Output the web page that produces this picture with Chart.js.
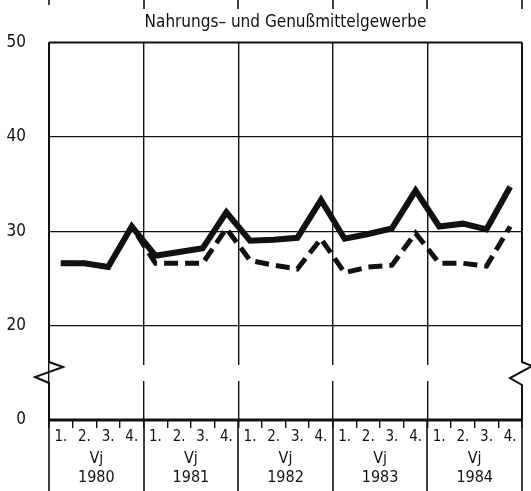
<!DOCTYPE html>
<html>
<head>
<meta charset="utf-8">
<script src="https://cdn.jsdelivr.net/npm/chart.js@4"></script>
<style>
  html, body { margin: 0; padding: 0; background: #fff; }
  #wrap { width: 531px; height: 491px; }
</style>
</head>
<body>
<div id="wrap"><canvas id="chart" width="531" height="491"></canvas></div>
<script>
// categories
var quarters = ['1.', '2.', '3.', '4.', '1.', '2.', '3.', '4.', '1.', '2.', '3.', '4.', '1.', '2.', '3.', '4.', '1.', '2.', '3.', '4.'];
var years = [['Vj', '1980'], ['Vj', '1981'], ['Vj', '1982'], ['Vj', '1983'], ['Vj', '1984']];

// series
var solidValues = [26.6, 26.6, 26.2, 30.5, 27.4, 27.8, 28.2, 32.0, 29.0, 29.1, 29.3, 33.3, 29.2, 29.7, 30.3, 34.3, 30.5, 30.8, 30.2, 34.7];
var dashedValues = [26.6, 26.6, 26.2, 30.5, 26.6, 26.6, 26.6, 30.3, 26.9, 26.4, 26.0, 29.2, 25.6, 26.2, 26.4, 29.8, 26.6, 26.6, 26.3, 30.5];

// y ticks: axis is broken, the bottom tick (10) is labelled 0
var yTicks = [10, 20, 30, 40, 50];
var yTickLabels = {10: '0', 20: '20', 30: '30', 40: '40', 50: '50'};

var INK = '#111';
var FONT = "'Liberation Sans Narrow', 'DejaVu Sans Condensed', 'Liberation Sans', sans-serif";

// frame, axis break, year separators, top ticks
var framePlugin = {
  id: 'frame',
  beforeDatasetsDraw: function (chart) {
    var a = chart.chartArea, c = chart.ctx;
    // gap in the gridlines at the axis break
    c.save();
    c.fillStyle = '#fff';
    c.fillRect(a.left + 2, a.bottom - 55, a.right - a.left - 4, 16);
    c.restore();
  },
  afterDraw: function (chart) {
    var a = chart.chartArea, c = chart.ctx;
    var L = a.left, R = a.right, T = a.top, B = a.bottom;
    c.save();
    c.strokeStyle = INK;
    c.lineCap = 'butt';
    c.lineJoin = 'miter';
    // top border
    c.lineWidth = 2;
    c.beginPath(); c.moveTo(L, T); c.lineTo(R, T); c.stroke();
    // left border with zigzag
    c.beginPath();
    c.moveTo(L, T); c.lineTo(L, B - 58);
    c.lineTo(L + 14, B - 53); c.lineTo(L - 14, B - 43); c.lineTo(L, B - 37);
    c.lineTo(L, B);
    c.stroke();
    // right border with zigzag
    c.beginPath();
    c.moveTo(R, T); c.lineTo(R, B - 58);
    c.lineTo(R + 10, B - 54); c.lineTo(R - 12, B - 42); c.lineTo(R, B - 35);
    c.lineTo(R, B);
    c.stroke();
    // zero line
    c.lineWidth = 3;
    c.beginPath(); c.moveTo(L, B); c.lineTo(R, B); c.stroke();
    // year separators through the label area, and ticks at the top
    c.lineWidth = 1.6;
    var x = chart.scales.x;
    for (var i = 0; i <= quarters.length; i += 4) {
      var px = i < quarters.length ? x.getPixelForTick(i) - (x.getPixelForTick(1) - x.getPixelForTick(0)) / 2 : R;
      px = Math.round(px);
      c.beginPath(); c.moveTo(px, B); c.lineTo(px, chart.height); c.stroke();
      c.beginPath(); c.moveTo(px, 0); c.lineTo(px, i === 0 ? 5 : 9); c.stroke();
    }
    c.restore();
  }
};

var ctx = document.getElementById('chart').getContext('2d');
var myChart = new Chart(ctx, {
  type: 'line',
  data: {
    labels: quarters,
    datasets: [{
      data: solidValues,
      borderColor: INK,
      borderWidth: 6,
      borderJoinStyle: 'miter',
      pointRadius: 0,
      tension: 0,
      order: 0
    }, {
      data: dashedValues,
      borderColor: INK,
      borderWidth: 5,
      borderDash: [14, 7],
      borderJoinStyle: 'miter',
      pointRadius: 0,
      tension: 0,
      order: 1
    }]
  },
  plugins: [framePlugin],
  options: {
    responsive: false,
    animation: false,
    layout: { padding: { left: 0, right: 9, top: 0, bottom: 0 } },
    plugins: {
      legend: { display: false },
      tooltip: { enabled: false },
      title: {
        display: true,
        fullSize: false,
        text: 'Nahrungs– und Genußmittelgewerbe',
        color: INK,
        font: { family: FONT, size: 17, weight: 'normal', lineHeight: 1.2 },
        padding: { top: 12, bottom: 10 }
      }
    },
    scales: {
      x: {
        type: 'category',
        offset: true,
        border: { display: false },
        grid: {
          offset: true,
          color: function (c) { return c.index % 4 === 0 ? INK : 'rgba(0,0,0,0)'; },
          tickColor: INK,
          lineWidth: 1.4,
          tickLength: 8,
          drawTicks: true
        },
        ticks: {
          color: INK,
          font: { family: FONT, size: 15 },
          padding: 0,
          maxRotation: 0,
          autoSkip: false
        },
        afterFit: function (s) { s.height = 21; }
      },
      x2: {
        type: 'category',
        labels: years,
        offset: true,
        position: 'bottom',
        border: { display: false },
        grid: { display: false },
        ticks: {
          color: INK,
          font: { family: FONT, size: 16, lineHeight: 1.2 },
          padding: 0,
          maxRotation: 0
        },
        afterFit: function (s) { s.height = 50; }
      },
      y: {
        min: 10,
        max: 50,
        border: { display: false },
        afterBuildTicks: function (s) { s.ticks = yTicks.map(function (v) { return { value: v }; }); },
        grid: {
          color: function (c) { return (c.tick && (c.tick.value === 10 || c.tick.value === 50)) ? 'rgba(0,0,0,0)' : INK; },
          lineWidth: 1.2,
          drawTicks: false
        },
        ticks: {
          color: INK,
          font: { family: FONT, size: 17 },
          padding: 23,
          callback: function (v) { return yTickLabels[v]; }
        },
        afterFit: function (s) { s.width = 49; }
      }
    }
  }
});
</script>
</body>
</html>
